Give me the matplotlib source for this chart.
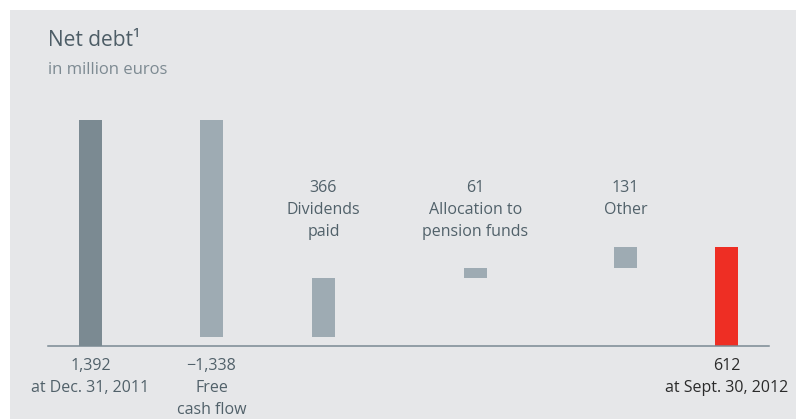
import numpy as np
import matplotlib.pyplot as plt
import matplotlib.patches as patches

# data (million euros)
start_value = 1392
changes = [-1338, 366, 61, 131]
end_value = 612
values = [start_value] + changes + [end_value]
value_labels = ["1,392", "\u22121,338", "366", "61", "131", "612"]
categories = ["at Dec. 31, 2011", "Free\ncash flow", "Dividends\npaid",
              "Allocation to\npension funds", "Other", "at Sept. 30, 2012"]

# layout (pixel positions of bar centres)
xpos = [90.5, 211.5, 323.5, 475.5, 625.5, 726.5]
W, H = 801, 419
BASE_PX, TOP_PX = 346, 120
scale = (BASE_PX - TOP_PX) / start_value  # px per unit

fig = plt.figure(figsize=(W / 100, H / 100), dpi=100)
fig.patch.set_facecolor("white")

ax = fig.add_axes([0, 0, 1, 1])
ax.set_xlim(0, W)
ax.set_ylim(-(H - BASE_PX) / scale, BASE_PX / scale)
ax.axis("off")
ax.add_patch(patches.Rectangle((10 / W, 0), 786 / W, (H - 10) / H,
                               transform=fig.transFigure,
                               facecolor="#e6e7e9", edgecolor="none", zorder=0))

# waterfall bottoms
bottoms, heights = [0], [start_value]
level = start_value
for c in changes:
    new = level + c
    bottoms.append(min(level, new))
    heights.append(abs(c))
    level = new
bottoms.append(0)
heights.append(end_value)

colors = ["#7b8a92"] + ["#9eabb3"] * len(changes) + ["#ee2e24"]
ax.bar(xpos, heights, bottom=bottoms, width=23, color=colors, zorder=2)
ax.plot([48, 769], [0, 0], color="#7a8a93", lw=1.1, zorder=3)

def py(px):
    # pixel row -> data value
    return (BASE_PX - px) / scale

FONT = "Open Sans"
txt = "#51616a"
dark = "#2b2b2b"

ax.text(48, py(40), "Net debt\u00b9", fontsize=15, color="#4d5d66",
        family=FONT, va="center", ha="left")
ax.text(48, py(70), "in million euros", fontsize=12, color="#7d8a92",
        family=FONT, va="center", ha="left")

lh = 22
for i, (x, vl, cat) in enumerate(zip(xpos, value_labels, categories)):
    below = i in (0, 1, len(xpos) - 1)
    col = dark if i == len(xpos) - 1 else txt
    lines = [vl] + cat.split("\n")
    y0 = 366 if below else 188
    for j, line in enumerate(lines):
        ax.text(x, py(y0 + j * lh), line, ha="center", va="center",
                fontsize=11.5, color=col, family=FONT)

fig.savefig("out.png", dpi=100)
